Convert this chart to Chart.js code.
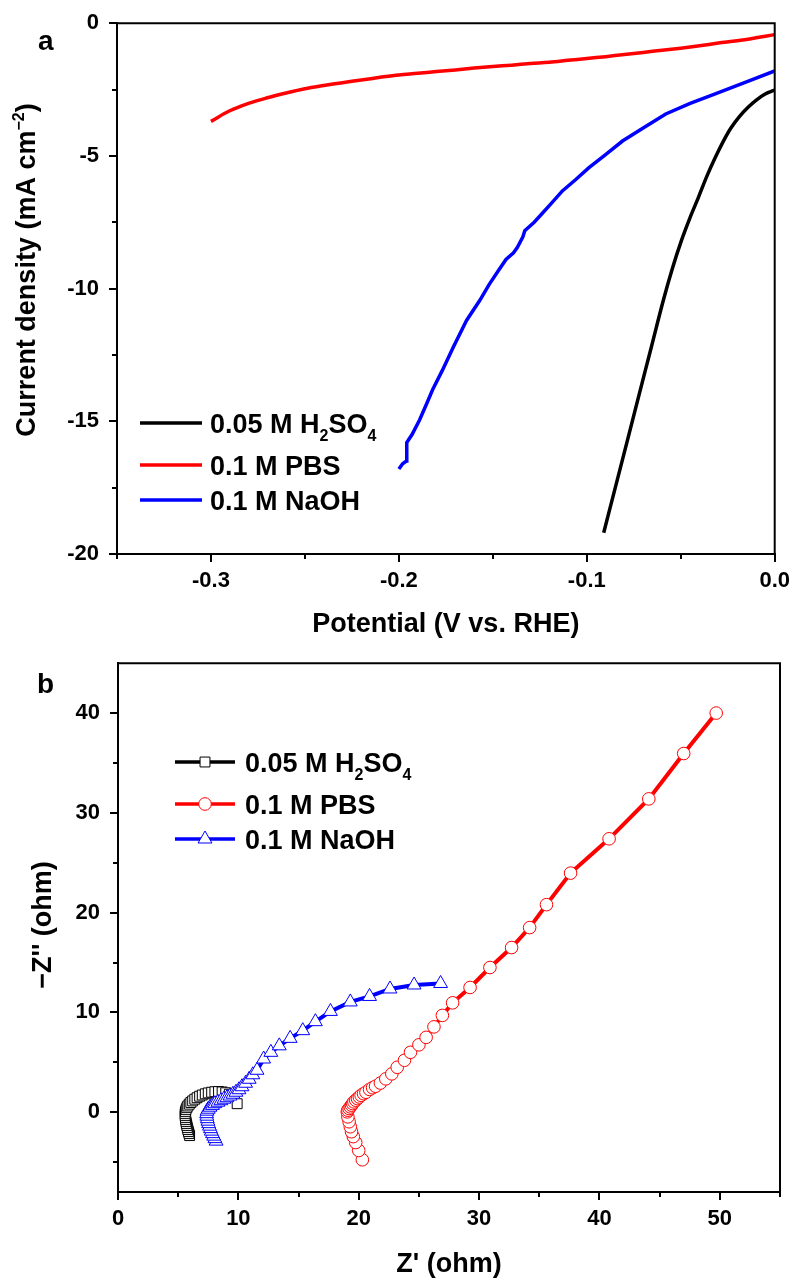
<!DOCTYPE html>
<html>
<head>
<meta charset="utf-8">
<script src="https://cdn.jsdelivr.net/npm/chart.js@4.4.1/dist/chart.umd.min.js"></script>
<style>
  html, body { margin: 0; padding: 0; background: #fff; }
  #wrap { position: relative; width: 796px; height: 1279px; }
  canvas { position: absolute; left: 0; }
</style>
</head>
<body>
<div id="wrap">
  <canvas id="lsv" width="796" height="640" style="top:0"></canvas>
  <canvas id="eis" width="796" height="639" style="top:640px"></canvas>
</div>
<script>
// ---- panel a: polarization curves (V vs. RHE, mA cm^-2) ----
const lsvH2so4Potential = [-0.091, -0.0847, -0.0778, -0.0725, -0.0656, -0.0593, -0.0545, -0.0497, -0.0452, -0.0407, -0.0362,
  -0.0317, -0.0275, -0.0233, -0.0188, -0.0143, -0.0098, -0.0053, 0.0];
const lsvH2so4Current   = [-19.2, -17.46, -15.56, -14.09, -12.19, -10.45, -9.25, -8.2, -7.35, -6.58, -5.78,
  -5.07, -4.47, -3.95, -3.52, -3.18, -2.9, -2.68, -2.52];

const lsvPbsPotential = [-0.30, -0.29, -0.28, -0.27, -0.26, -0.25, -0.24, -0.23, -0.22, -0.21, -0.20, -0.19, -0.18, -0.17, -0.16, -0.15,
  -0.14, -0.13, -0.12, -0.11, -0.10, -0.09, -0.08, -0.07, -0.06, -0.05, -0.04, -0.03, -0.02, -0.01, 0.0];
const lsvPbsCurrent = [-3.70, -3.30, -3.02, -2.81, -2.63, -2.47, -2.35, -2.24, -2.14, -2.04, -1.95, -1.89, -1.82, -1.76, -1.69, -1.63,
  -1.58, -1.52, -1.47, -1.40, -1.33, -1.26, -1.18, -1.10, -1.02, -0.94, -0.85, -0.75, -0.66, -0.55, -0.43];

const lsvNaohPotential = [-0.200, -0.198, -0.196, -0.1958, -0.193, -0.189, -0.185, -0.182, -0.177, -0.171, -0.164, -0.157, -0.152, -0.147,
  -0.143, -0.139, -0.137, -0.134, -0.133, -0.128, -0.124, -0.119, -0.113, -0.106, -0.099, -0.090, -0.081, -0.070, -0.058, -0.045,
  -0.032, -0.014, 0.0];
const lsvNaohCurrent = [-16.8, -16.6, -16.5, -15.8, -15.5, -14.95, -14.3, -13.8, -13.1, -12.2, -11.2, -10.45, -9.85, -9.32,
  -8.9, -8.65, -8.45, -8.05, -7.82, -7.5, -7.19, -6.8, -6.32, -5.9, -5.45, -4.95, -4.44, -3.95, -3.42, -3.02,
  -2.67, -2.18, -1.80];

const lsvXTicks = [-0.3, -0.2, -0.1, 0.0];
const lsvXMinor = [-0.35, -0.25, -0.15, -0.05];
const lsvYTicks = [0, -5, -10, -15, -20];
const lsvYMinor = [-2.5, -7.5, -12.5, -17.5];

// ---- panel b: Nyquist plots (ohm) ----
const eisH2so4Re = [5.95, 5.9, 5.85, 5.8, 5.76, 5.72, 5.68, 5.65, 5.62, 5.6, 5.58, 5.58, 5.6, 5.65, 5.72, 5.8, 5.92, 6.05, 6.2, 6.38,
  6.57, 6.78, 7.0, 7.25, 7.5, 7.78, 8.05, 8.35, 8.65, 8.95, 9.25, 9.9];
const eisH2so4Im = [-2.35, -2.15, -1.95, -1.75, -1.55, -1.35, -1.15, -0.95, -0.75, -0.55, -0.35, -0.15, 0.05, 0.25, 0.45, 0.62, 0.8, 0.97, 1.13, 1.3,
  1.45, 1.6, 1.72, 1.84, 1.93, 2.0, 2.05, 2.07, 2.03, 1.95, 1.8, 0.85];

const eisPbsRe = [20.3, 20.0, 19.75, 19.55, 19.4, 19.3, 19.2, 19.1, 19.05, 19.1, 19.2, 19.3, 19.4, 19.5, 19.6, 19.75, 19.9, 20.05, 20.2,
  20.4, 20.6, 20.9, 21.15, 21.4, 21.8, 22.25, 22.75, 23.2, 23.8, 24.3, 25.0, 25.6, 26.25, 26.95, 27.8, 29.25, 30.9, 32.7, 34.2, 35.6,
  37.6, 40.8, 44.1, 47.0, 49.7];
const eisPbsIm = [-4.77, -3.84, -3.04, -2.45, -1.96, -1.46, -0.96, -0.47, 0.03, 0.2, 0.37, 0.53, 0.7, 0.86, 1.03, 1.2, 1.36, 1.52, 1.69,
  1.85, 2.0, 2.28, 2.45, 2.6, 2.92, 3.34, 3.84, 4.5, 5.2, 6.0, 6.75, 7.5, 8.55, 9.7, 10.96, 12.5, 14.5, 16.5, 18.5, 20.8,
  23.96, 27.4, 31.4, 35.95, 40.0];

const eisNaohRe = [8.15, 8.05, 7.95, 7.85, 7.75, 7.68, 7.6, 7.53, 7.47, 7.42, 7.38, 7.36, 7.4, 7.5, 7.65, 7.85, 8.05, 8.3, 8.55, 8.8,
  9.05, 9.3, 9.55, 9.8, 10.05, 10.3, 10.6, 10.9, 11.2, 11.55, 12.1, 12.7, 13.4, 14.3, 15.35, 16.4, 17.65, 19.3, 20.9, 22.6, 24.6, 26.8];
const eisNaohIm = [-2.9, -2.65, -2.4, -2.15, -1.9, -1.65, -1.4, -1.15, -0.9, -0.65, -0.4, -0.15, 0.1, 0.3, 0.5, 0.68, 0.85, 1.0, 1.15, 1.3,
  1.45, 1.62, 1.8, 2.0, 2.25, 2.55, 2.9, 3.3, 3.75, 4.2, 5.33, 6.0, 6.65, 7.4, 8.17, 9.07, 10.1, 11.05, 11.6, 12.35, 12.75, 12.9];

const eisXTicks = [0, 10, 20, 30, 40, 50];
const eisXMinor = [5, 15, 25, 35, 45, 55];
const eisYTicks = [0, 10, 20, 30, 40];
const eisYMinor = [-5, 5, 15, 25, 35];

const BLACK = '#000000', RED = '#ff0000', BLUE = '#0000ff';
const FAMILY = '"Liberation Sans", Arial, Helvetica, sans-serif';
const BIG = 'bold 27px ' + FAMILY;
const SMALL = 'bold 16px ' + FAMILY;

Chart.defaults.color = '#000';
Chart.defaults.font.family = FAMILY;

const toPoints = (xs, ys) => xs.map((x, i) => ({ x, y: ys[i] }));

// rich text: parts = [[text, 0 normal | 1 sub | 2 sup]]
function richWidth(ctx, parts) {
  return parts.reduce((w, p) => { ctx.font = p[1] ? SMALL : BIG; return w + ctx.measureText(p[0]).width; }, 0);
}
function drawRich(ctx, parts, x, y, center) {
  let cx = center ? x - richWidth(ctx, parts) / 2 : x;
  parts.forEach(p => {
    ctx.font = p[1] ? SMALL : BIG;
    const dy = p[1] === 1 ? 8 : (p[1] === 2 ? -11 : 0);
    ctx.fillText(p[0], cx, y + dy);
    cx += ctx.measureText(p[0]).width;
  });
}

const decorPlugin = {
  id: 'decor',
  afterDraw(chart, args, opts) {
    const ctx = chart.ctx;
    const a = chart.chartArea;
    const xs = chart.scales.x, ys = chart.scales.y;
    ctx.save();
    ctx.strokeStyle = '#000';
    ctx.lineWidth = 2;
    // top and right frame
    ctx.beginPath();
    ctx.moveTo(a.left - 1, a.top);
    ctx.lineTo(a.right, a.top);
    ctx.lineTo(a.right, a.bottom);
    ctx.stroke();
    // minor ticks
    ctx.beginPath();
    opts.minorX.forEach(v => {
      const px = Math.round(xs.getPixelForValue(v));
      ctx.moveTo(px, a.bottom); ctx.lineTo(px, a.bottom + 5);
    });
    opts.minorY.forEach(v => {
      const py = Math.round(ys.getPixelForValue(v));
      ctx.moveTo(a.left - 5, py); ctx.lineTo(a.left, py);
    });
    ctx.stroke();

    ctx.fillStyle = '#000';
    ctx.textBaseline = 'alphabetic';
    ctx.textAlign = 'left';
    // panel letter
    ctx.font = 'bold 28px ' + FAMILY;
    ctx.fillText(opts.panel[0], opts.panel[1], opts.panel[2]);
    // x title
    drawRich(ctx, opts.xTitle, (a.left + a.right) / 2, opts.xTitleY, true);
    // y title (rotated)
    ctx.save();
    ctx.translate(opts.yTitleX, opts.yTitleY);
    ctx.rotate(-Math.PI / 2);
    drawRich(ctx, opts.yTitle, 0, 0, true);
    ctx.restore();
    // legend
    opts.legend.forEach(item => {
      ctx.strokeStyle = item.color;
      ctx.lineWidth = 3.5;
      ctx.beginPath();
      ctx.moveTo(item.x0, item.y); ctx.lineTo(item.x1, item.y);
      ctx.stroke();
      if (item.marker) {
        ctx.fillStyle = '#fff';
        ctx.lineWidth = 1;
        Chart.helpers.drawPoint(ctx, { pointStyle: item.marker, radius: item.radius, borderWidth: 1, rotation: 0 },
          (item.x0 + item.x1) / 2, item.y);
      }
      ctx.fillStyle = '#000';
      drawRich(ctx, item.text, item.tx, item.y + 9.5, false);
    });
    ctx.restore();
  }
};

function axis(min, max, major, fmt, isX, size) {
  return {
    type: 'linear',
    min, max,
    position: isX ? 'bottom' : 'left',
    afterFit(s) { if (isX) s.height = size; else s.width = size; },
    afterBuildTicks(s) { s.ticks = major.map(v => ({ value: v })); },
    grid: { display: true, drawOnChartArea: false, drawTicks: true, tickLength: 8, color: '#000', lineWidth: 2 },
    border: { display: true, color: '#000', width: 2 },
    ticks: {
      color: '#000',
      font: { size: 22, weight: 'bold', family: FAMILY },
      padding: isX ? 6 : 10,
      maxRotation: 0,
      autoSkip: false,
      callback: fmt
    }
  };
}

const H2SO4_TEXT = [['0.05 M H', 0], ['2', 1], ['SO', 0], ['4', 1]];
const PBS_TEXT = [['0.1 M PBS', 0]];
const NAOH_TEXT = [['0.1 M NaOH', 0]];

// ---- chart a ----
new Chart(document.getElementById('lsv'), {
  type: 'scatter',
  data: {
    datasets: [
      { label: '0.05 M H2SO4', data: toPoints(lsvH2so4Potential, lsvH2so4Current), borderColor: BLACK },
      { label: '0.1 M PBS', data: toPoints(lsvPbsPotential, lsvPbsCurrent), borderColor: RED },
      { label: '0.1 M NaOH', data: toPoints(lsvNaohPotential, lsvNaohCurrent), borderColor: BLUE, tension: 0 }
    ].map(d => Object.assign({ showLine: true, borderWidth: 3.5, pointRadius: 0, tension: 0.35 }, d))
  },
  options: {
    responsive: false,
    animation: false,
    layout: { padding: { top: 22, right: 19, bottom: 16, left: 0 } },
    scales: {
      x: axis(-0.35, 0, lsvXTicks, v => v.toFixed(1), true, 70),
      y: axis(-20, 0, lsvYTicks, v => String(v), false, 117)
    },
    plugins: {
      legend: { display: false },
      tooltip: { enabled: false },
      decor: {
        panel: ['a', 38, 50],
        minorX: lsvXMinor,
        minorY: lsvYMinor,
        xTitle: [['Potential (V vs. RHE)', 0]],
        xTitleY: 632,
        yTitle: [['Current density (mA cm', 0], ['\u22122', 2], [')', 0]],
        yTitleX: 35,
        yTitleY: 270,
        legend: [
          { color: BLACK, x0: 140, x1: 202, y: 423, tx: 210, text: H2SO4_TEXT },
          { color: RED, x0: 140, x1: 202, y: 465, tx: 210, text: PBS_TEXT },
          { color: BLUE, x0: 140, x1: 202, y: 500, tx: 210, text: NAOH_TEXT }
        ]
      }
    }
  },
  plugins: [decorPlugin]
});

// ---- chart b ----
new Chart(document.getElementById('eis'), {
  type: 'scatter',
  data: {
    datasets: [
      { label: '0.1 M NaOH', data: toPoints(eisNaohRe, eisNaohIm), borderColor: BLUE, pointStyle: 'triangle', pointRadius: 8 },
      { label: '0.1 M PBS', data: toPoints(eisPbsRe, eisPbsIm), borderColor: RED, pointStyle: 'circle', pointRadius: 6.3 },
      { label: '0.05 M H2SO4', data: toPoints(eisH2so4Re, eisH2so4Im), borderColor: BLACK, pointStyle: 'rect', pointRadius: 7 }
    ].map(d => Object.assign({
      showLine: true, borderWidth: 4, tension: 0,
      pointBackgroundColor: '#ffffff', pointBorderColor: d.borderColor, pointBorderWidth: 1
    }, d))
  },
  options: {
    responsive: false,
    animation: false,
    layout: { padding: { top: 20, right: 16, bottom: 17, left: 0 } },
    scales: {
      x: axis(0, 55, eisXTicks, v => String(v), true, 70),
      y: axis(-8, 45, eisYTicks, v => String(v), false, 118)
    },
    plugins: {
      legend: { display: false },
      tooltip: { enabled: false },
      decor: {
        panel: ['b', 37, 53],
        minorX: eisXMinor,
        minorY: eisYMinor,
        xTitle: [["Z' (ohm)", 0]],
        xTitleY: 632,
        yTitle: [["\u2212Z'' (ohm)", 0]],
        yTitleX: 51,
        yTitleY: 285,
        legend: [
          { color: BLACK, x0: 175, x1: 235, y: 122, tx: 245, text: H2SO4_TEXT, marker: 'rect', radius: 7 },
          { color: RED, x0: 175, x1: 235, y: 164, tx: 245, text: PBS_TEXT, marker: 'circle', radius: 6.3 },
          { color: BLUE, x0: 175, x1: 235, y: 199, tx: 245, text: NAOH_TEXT, marker: 'triangle', radius: 8 }
        ]
      }
    }
  },
  plugins: [decorPlugin]
});
</script>
</body>
</html>
